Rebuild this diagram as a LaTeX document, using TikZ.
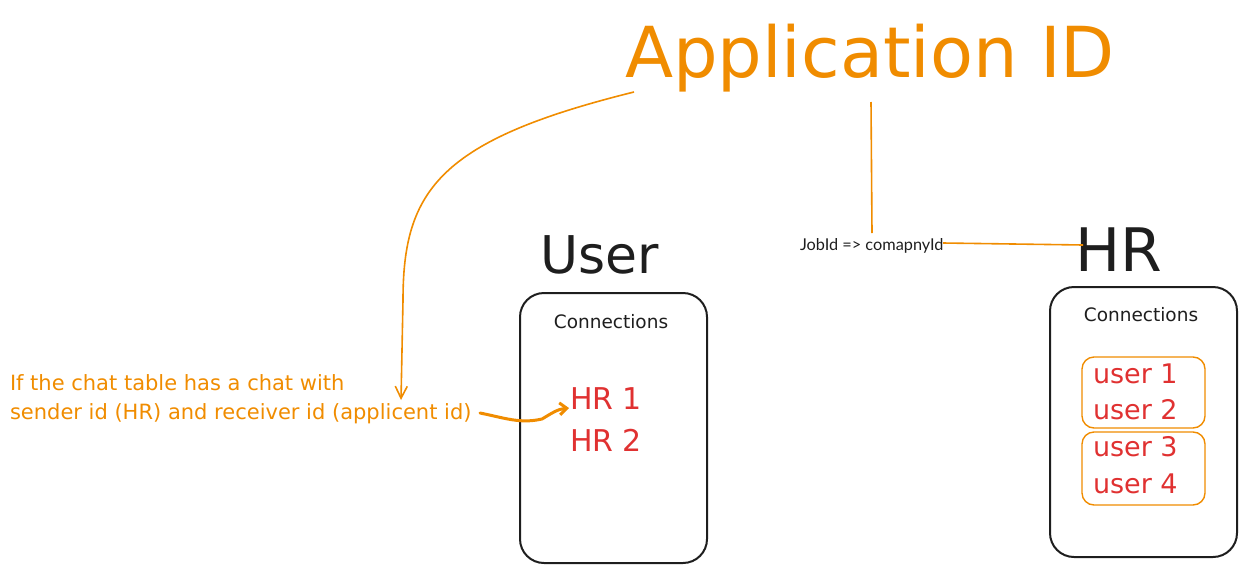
\documentclass[tikz,border=0pt]{standalone}
\usepackage{fontspec}
\setmainfont{DejaVu Sans}
\newfontfamily\labelfont{Lato}
\usetikzlibrary{arrows.meta}
\definecolor{exorange}{HTML}{F08C00}
\definecolor{exred}{HTML}{E03131}
\definecolor{exblack}{HTML}{1E1E1E}
\tikzset{
  panel/.style={draw=exblack, line width=2pt, rounded corners=24pt},
  group/.style={draw=exorange, line width=1.4pt, rounded corners=12pt},
  conn/.style={draw=exorange, line width=1.6pt},
  hand/.style={inner sep=0pt, outer sep=0pt},
}
\begin{document}
\begin{tikzpicture}[x=1pt,y=-1pt]
\useasboundingbox (0,0) rectangle (1247,573);
% title
\node[hand, anchor=base west, text=exorange] (title) at (625,77) {\resizebox{490pt}{!}{\fontsize{72}{80}\selectfont Application ID}};
\coordinate (tA) at (634,92);
\coordinate (tB) at (871,102);
% user
\node[hand, anchor=base west, text=exblack] (userlbl) at (540,273) {\fontsize{52}{60}\selectfont User};
\draw[panel] (520,293) rectangle (707,563);
\node[hand, text=exblack] (uconn) at (611,322) {\fontsize{18.5}{22}\selectfont Connections};
\node[hand, anchor=base west, text=exred] (hr1) at (570,409) {\fontsize{30}{34}\selectfont HR 1};
\node[hand, anchor=base west, text=exred] (hr2) at (570,451) {\fontsize{30}{34}\selectfont HR 2};
% HR
\node[hand, anchor=base west, text=exblack] (hrlbl) at (1075,271) {\fontsize{60}{66}\selectfont HR};
\draw[panel] (1050,287) rectangle (1237,557);
\node[hand, text=exblack] (hconn) at (1141,315) {\fontsize{18.5}{22}\selectfont Connections};
\draw[group] (1082,357) rectangle (1205,428);
\draw[group] (1082,432) rectangle (1205,505);
\node[hand, anchor=base west, text=exred] (u1) at (1093,383) {\fontsize{27}{30}\selectfont user 1};
\node[hand, anchor=base west, text=exred] (u2) at (1093,419) {\fontsize{27}{30}\selectfont user 2};
\node[hand, anchor=base west, text=exred] (u3) at (1093,456) {\fontsize{27}{30}\selectfont user 3};
\node[hand, anchor=base west, text=exred] (u4) at (1093,493) {\fontsize{27}{30}\selectfont user 4};
% annotation
\node[hand, anchor=base west, text=exorange, align=left] (note1) at (10,390) {\fontsize{21}{24}\selectfont If the chat table has a chat with};
\node[hand, anchor=base west, text=exorange, align=left] (note2) at (10,419) {\fontsize{21}{24}\selectfont sender id (HR) and receiver id (applicent id)};
% job id label
\node[hand, anchor=base west, text=exblack] (job) at (800,250) {\labelfont\fontsize{16.3}{18}\selectfont JobId => comapnyId};
% connectors
\coordinate (arrEnd) at (401,400);
\draw[conn, -{Straight Barb[length=12pt,width=12pt]}] (tA) .. controls (440,140) and (403,190) .. (403,300) -- (arrEnd);
\coordinate (vEnd) at (872,233);
\draw[conn] (tB) -- (vEnd);
\coordinate (hStart) at (943,243);
\coordinate (hEnd) at (1083,245);
\draw[conn] (hStart) -- (hEnd);
\coordinate (nEnd) at (480,413);
\coordinate (hrTip) at (569,408);
\draw[draw=exorange, line width=3pt, line cap=round, -{Straight Barb[length=7pt,width=12pt,line width=3pt]}] (nEnd) .. controls (505,418) and (520,424) .. (542,419) .. controls (552,413) and (558,409) .. (hrTip);
\end{tikzpicture}
\end{document}
